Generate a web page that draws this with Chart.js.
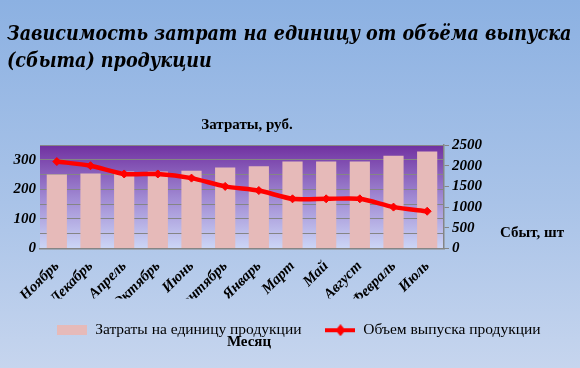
<!DOCTYPE html>
<html lang="ru">
<head>
<meta charset="UTF-8">
<title>Зависимость затрат на единицу от объёма выпуска</title>
<script src="https://cdn.jsdelivr.net/npm/chart.js"></script>
<style>
html,body{margin:0;padding:0;}
body{width:580px;height:368px;overflow:hidden;
    background:linear-gradient(to bottom,#8cb1e2 0%,#a9c3e8 55%,#c6d5ee 100%);}
.box{position:relative;width:580px;height:368px;}
</style>
</head>
<body>
<div class="box"><canvas id="c"></canvas></div>
<script>
/* ---- data ---- */
const months=["Ноябрь","Декабрь","Апрель","Октябрь","Июнь","Сентябрь","Январь","Март","Май","Август","Февраль","Июль"];
const unitCost=[250,254,260,260,263,274,278,294,294,294,314,328];      // руб.
const volume  =[2100,2000,1800,1800,1700,1500,1400,1200,1200,1200,1000,900]; // шт

const TITLE=["Зависимость затрат на единицу от объёма выпуска","(сбыта) продукции"];
const costLabel="Затраты на единицу продукции";
const volLabel ="Объем выпуска продукции";

const SERIF="'Liberation Serif','Times New Roman',serif";
const PINK="#e6bab9", RED="#ff0000", GRID="#858585";

/* legend icons */
function barIcon(){
    const c=document.createElement("canvas");c.width=30;c.height=10;
    const x=c.getContext("2d");x.fillStyle=PINK;x.fillRect(0,0,30,10);
    return c;
}
function lineIcon(){
    const c=document.createElement("canvas");c.width=30;c.height=12;
    const x=c.getContext("2d");
    x.fillStyle=RED;x.fillRect(0,4,30,4);
    x.beginPath();x.moveTo(15,0);x.lineTo(20,6);x.lineTo(15,12);x.lineTo(10,6);x.closePath();x.fill();
    return c;
}

/* plot-area gradient + free texts */
const deco={
    id:"deco",
    beforeDraw(chart){
        const {ctx,chartArea:a}=chart;
        const g=ctx.createLinearGradient(0,a.top,0,a.bottom);
        g.addColorStop(0,"#7030a0");
        g.addColorStop(0.5,"#9f88d2");
        g.addColorStop(1,"#ccd6f6");
        ctx.save();ctx.fillStyle=g;ctx.fillRect(a.left,a.top,a.right-a.left,a.bottom-a.top);ctx.restore();
    },
    afterDraw(chart){
        const ctx=chart.ctx;
        ctx.save();
        ctx.fillStyle="#000";ctx.textBaseline="alphabetic";
        ctx.font="italic bold 19.5px 'DejaVu Serif Condensed','DejaVu Serif',serif";
        ctx.textAlign="left";
        ctx.fillText(TITLE[0],7,40);
        ctx.fillText(TITLE[1],7,67);
        ctx.font="bold 15px "+SERIF;
        ctx.textAlign="center";ctx.textBaseline="middle";
        ctx.fillText("Затраты, руб.",247,125);
        ctx.fillText("Сбыт, шт",532,233);
        ctx.fillText("Месяц",249,342);
        ctx.restore();
    }
};

new Chart(document.getElementById("c"),{
    data:{
        labels:months,
        datasets:[
            {type:"bar",label:costLabel,data:unitCost,yAxisID:"y",backgroundColor:PINK,
             barPercentage:0.6,categoryPercentage:1,order:2},
            {type:"line",label:volLabel,data:volume,yAxisID:"y2",borderColor:RED,backgroundColor:RED,
             borderWidth:4.5,tension:0.25,pointStyle:"rectRot",pointRadius:4,pointBorderWidth:1,order:1}
        ]
    },
    options:{
        responsive:true,maintainAspectRatio:false,animation:false,
        // negative right padding shifts the centred legend to where the original has it
        layout:{padding:{top:145,left:0,right:-18,bottom:20}},
        plugins:{
            tooltip:{enabled:false},
            legend:{
                position:"bottom",
                labels:{
                    usePointStyle:true,pointStyleWidth:30,padding:24,color:"#000",
                    font:{family:SERIF,size:15.5},
                    generateLabels:()=>[
                        {text:costLabel,pointStyle:barIcon(),fillStyle:PINK,strokeStyle:"transparent",lineWidth:0,fontColor:"#000",datasetIndex:0},
                        {text:volLabel ,pointStyle:lineIcon(),fillStyle:RED,strokeStyle:"transparent",lineWidth:0,fontColor:"#000",datasetIndex:1}
                    ]
                }
            }
        },
        scales:{
            x:{
                grid:{display:false},
                border:{color:GRID,width:1.5},
                ticks:{minRotation:45,maxRotation:45,padding:1,color:"#000",autoSkip:false,
                       font:{family:SERIF,size:15,weight:"bold",style:"italic"}},
                afterFit:s=>{s.height=50;}
            },
            y:{
                position:"left",min:0,max:350,
                border:{display:false},
                grid:{color:GRID,lineWidth:1,drawTicks:false},
                ticks:{stepSize:50,padding:4,color:"#000",autoSkip:false,
                       font:{family:SERIF,size:15,weight:"bold",style:"italic"},
                       callback:v=>v%100===0?String(v):""},
                afterFit:s=>{s.width=40;}
            },
            y2:{
                position:"right",min:0,max:2500,
                border:{color:GRID,width:1.5},
                grid:{drawOnChartArea:false,color:GRID,tickLength:5},
                ticks:{stepSize:500,padding:3,color:"#000",autoSkip:false,
                       font:{family:SERIF,size:15,weight:"bold",style:"italic"},
                       callback:v=>String(v)},
                afterFit:s=>{s.width=154;}
            }
        }
    },
    plugins:[deco]
});
</script>
</body>
</html>
